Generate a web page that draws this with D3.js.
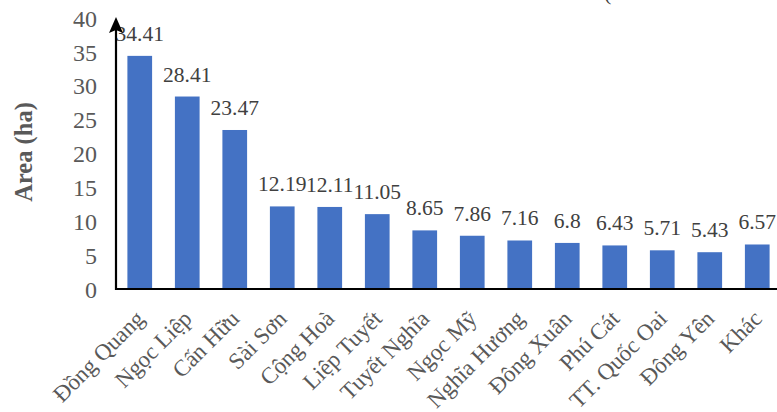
<!DOCTYPE html>
<html>
<head>
<meta charset="utf-8">
<script src="https://cdn.jsdelivr.net/npm/d3@7"></script>
<style>
  html, body { margin: 0; padding: 0; background: #fff; }
  svg { display: block; }
</style>
</head>
<body>
<div id="chart"></div>
<script>
// categories and values
const communes = ["Đồng Quang", "Ngọc Liệp", "Cấn Hữu", "Sài Sơn", "Cộng Hoà", "Liệp Tuyết",
  "Tuyết Nghĩa", "Ngọc Mỹ", "Nghĩa Hương", "Đông Xuân", "Phú Cát", "TT. Quốc Oai", "Đông Yên", "Khác"];
const areas = [34.41, 28.41, 23.47, 12.19, 12.11, 11.05, 8.65, 7.86, 7.16, 6.8, 6.43, 5.71, 5.43, 6.57];
const yTicks = [0, 5, 10, 15, 20, 25, 30, 35, 40];

const width = 777, height = 412;
const serif = "'Liberation Serif', 'Times New Roman', serif";
const data = communes.map((name, i) => ({ name, value: areas[i] }));

const svg = d3.select("#chart").append("svg")
  .attr("width", width)
  .attr("height", height)
  .attr("font-family", serif);

const x = d3.scaleBand()
  .domain(communes)
  .range([116, 781])
  .paddingInner(0.48)
  .paddingOuter(0.24);

const y = d3.scaleLinear()
  .domain([0, 40])
  .range([289, 18]);

// bars
svg.append("g")
  .selectAll("rect")
  .data(data)
  .join("rect")
  .attr("x", d => x(d.name))
  .attr("y", d => y(d.value))
  .attr("width", x.bandwidth())
  .attr("height", d => y(0) - y(d.value))
  .attr("fill", "#4472c4");

// value labels
svg.append("g")
  .attr("font-size", 21.5)
  .attr("fill", "#404040")
  .attr("text-anchor", "middle")
  .selectAll("text")
  .data(data)
  .join("text")
  .attr("x", d => x(d.name) + x.bandwidth() / 2)
  .attr("y", d => y(d.value) - 15)
  .text(d => d.value);

// y axis tick labels (no tick marks)
const yAxis = svg.append("g")
  .attr("transform", "translate(97,0)")
  .call(d3.axisLeft(y).tickValues(yTicks).tickSize(0).tickPadding(0));
yAxis.select(".domain").remove();
yAxis.selectAll("text")
  .attr("font-family", serif)
  .attr("font-size", 24)
  .attr("fill", "#595959")
  .attr("dy", "0.34em");

// x axis labels rotated
const xAxis = svg.append("g")
  .attr("transform", `translate(0,${y(0)})`)
  .call(d3.axisBottom(x).tickSize(0).tickPadding(0));
xAxis.select(".domain").remove();
xAxis.selectAll("text")
  .attr("font-family", serif)
  .attr("font-size", 23)
  .attr("fill", "#595959")
  .attr("text-anchor", "end")
  .attr("dy", null)
  .attr("y", 0)
  .attr("transform", "translate(6,31) rotate(-45)");

// axis lines
svg.append("line")
  .attr("x1", 115).attr("x2", width)
  .attr("y1", y(0)).attr("y2", y(0))
  .attr("stroke", "#000").attr("stroke-width", 2);

svg.append("line")
  .attr("x1", 116).attr("x2", 116)
  .attr("y1", y(0) + 1).attr("y2", 28)
  .attr("stroke", "#000").attr("stroke-width", 2.2);
svg.append("path")
  .attr("d", "M116,17 L109,33 L116,30 L123,33 Z")
  .attr("fill", "#000");

// y axis title
svg.append("text")
  .attr("transform", "translate(32,152) rotate(-90)")
  .attr("text-anchor", "middle")
  .attr("font-size", 24.5)
  .attr("font-weight", "bold")
  .attr("fill", "#595959")
  .text("Area (ha)");

// clipped remnant of a heading above the chart
svg.append("text")
  .attr("x", 604).attr("y", 0)
  .attr("font-size", 22)
  .attr("fill", "#404040")
  .text("(");
</script>
</body>
</html>
